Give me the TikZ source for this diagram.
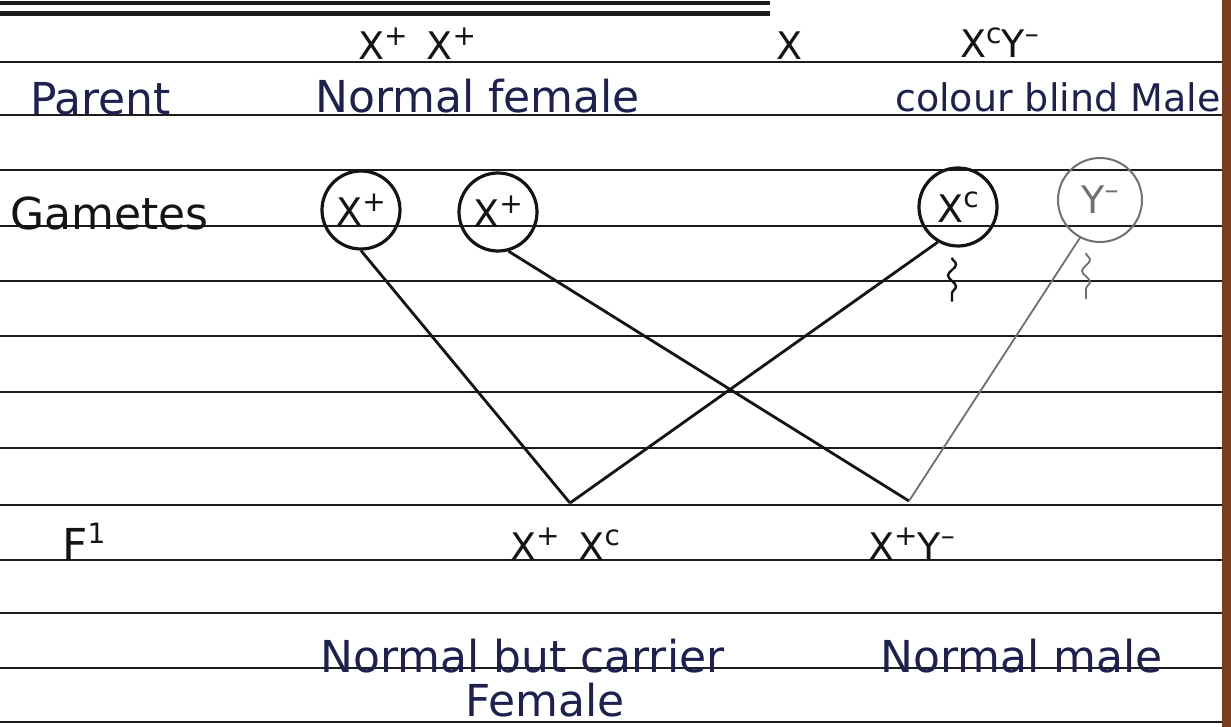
\documentclass[tikz,border=0pt]{standalone}
\usepackage{fontspec}
\setmainfont{DejaVu Sans}
\usepackage{tikz}
\usetikzlibrary{positioning, calc, decorations.pathmorphing}
\definecolor{ink}{HTML}{1E2050}
\definecolor{pencil}{HTML}{141414}
\definecolor{faint}{HTML}{707070}
\definecolor{rulecol}{HTML}{1C1C1C}
\definecolor{spine}{HTML}{7B3B1F}
\newcommand{\hand}{\fontsize{44}{48}\selectfont}
\newcommand{\geno}{\fontsize{38}{42}\selectfont}
\newcommand{\gup}[1]{\raisebox{0.38em}{\fontsize{28}{30}\selectfont #1}}
\tikzset{
  ruling/.style={draw=rulecol, line width=2.9pt},
  label/.style={text=ink, font=\hand, inner sep=0pt},
  genotype/.style={text=pencil, font=\geno, inner sep=0pt},
  gamete/.style={circle, draw=pencil, line width=3.2pt, minimum size=78pt, inner sep=0pt, text=pencil, font=\geno},
  cross/.style={draw=pencil, line width=2.8pt},
  tail/.style={draw=pencil, line width=2.4pt, decorate, decoration={snake, amplitude=4pt, segment length=22pt}}
}

\begin{document}
\begin{tikzpicture}[x=1pt, y=-1pt,
        faintgamete/.style={gamete, draw=faint, text=faint, line width=2pt, minimum size=84pt},
        faintcross/.style={draw=faint, line width=1.8pt}]

        % Seite
        \useasboundingbox (0,0) rectangle (1231,727);
        \fill[white] (0,0) rectangle (1231,727);
        \draw[line width=4pt, draw=rulecol] (0,3) -- (770,3);
        \draw[line width=5pt, draw=rulecol] (0,14) -- (770,14);
        \foreach \y in {62,115,170,226,281,336,392,448,505,560,613,668,722}
            \draw[ruling] (0,\y) -- (1222,\y);

        % Eltern
        \node (pf) [genotype, anchor=base west] at (358,60) {X\gup{+}\enspace X\gup{+}};
        \node (px) [genotype, anchor=base west] at (776,60) {X};
        \node (pm) [genotype, anchor=base west] at (960,58) {X\gup{c}Y\gup{--}};
        \node (lparent) [label, anchor=base west] at (30,115) {Parent};
        \node (lfemale) [label, anchor=base west] at (315,113) {Normal female};
        \node (lmale) [label, anchor=base west, font=\fontsize{38}{42}\selectfont] at (895,112) {colour blind Male};

        % Gameten
        \node (lgametes) [label, text=pencil, anchor=base west] at (10,230) {Gametes};
        \node (g1) [gamete] at (361,210) {X\gup{+}};
        \node (g2) [gamete] at (498,212) {X\gup{+}};
        \node (g3) [gamete] at (958,207) {X\gup{c}};
        \node (g4) [faintgamete] at (1100,200) {Y\gup{--}};
        \draw[tail] ($(g3.south)+(-6,10)$) -- ++(0,44);
        \draw[tail, draw=faint, line width=1.8pt] ($(g4.south)+(-14,10)$) -- ++(0,46);

        % F1
        \node (lf1) [label, text=pencil, anchor=base west] at (62,560) {F\gup{1}};
        \node (f1) [genotype, anchor=base west] at (510,560) {X\gup{+}\enspace X\gup{c}};
        \node (f2) [genotype, anchor=base west] at (868,560) {X\gup{+}Y\gup{--}};
        \coordinate (m1) at (570,503);
        \coordinate (m2) at (909,501);

        % Kreuzungslinien
        \draw[cross] (g1.south) -- (m1);
        \draw[cross] (g2.285) -- (m2);
        \draw[cross] (g3.240) -- (m1);
        \draw[faintcross] (g4.242) -- (m2);

        % Phaenotypen
        \node (lcarrier) [label, anchor=base west] at (320,672) {Normal but carrier};
        \node (lcarrier2) [label, anchor=base west] at (465,716) {Female};
        \node (lnormal) [label, anchor=base west] at (880,672) {Normal male};

        % Buchruecken
        \fill[spine] (1222,0) rectangle (1231,727);

\end{tikzpicture}
\end{document}
